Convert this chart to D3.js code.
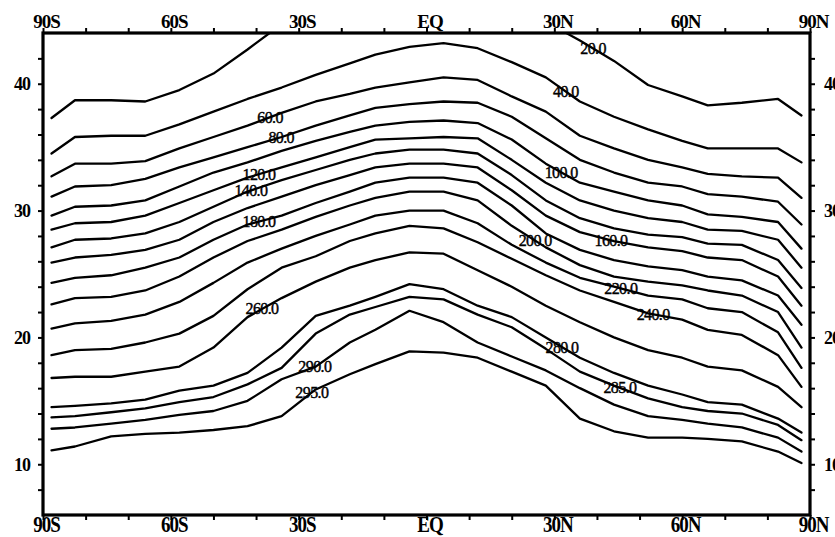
<!DOCTYPE html>
<html><head><meta charset="utf-8">
<script src="https://cdn.jsdelivr.net/npm/d3@7"></script>
<style>
body{margin:0;background:#fff}
svg{display:block}
</style>
</head><body>
<svg id="chart" width="835" height="537"></svg>
<script>
// latitude grid (negative = S, positive = N)
const lats = [-88,-82.5,-74,-66,-58,-50,-42,-34,-26,-18,-12,-4,4,12,20,28,36,44,52,60,66,74,82.5,88];
// contour levels
const levels = [20,40,60,80,100,120,140,160,180,200,220,240,260,280,285,290,295];
// height (km) of each contour at each latitude
const h20  = [37.3,38.7,38.7,38.6,39.5,40.8,42.7,44.7,45.8,46.6,47.0,47.2,47.2,47.0,46.2,44.9,43.4,41.8,39.9,39.0,38.3,38.5,38.8,37.5];
const h40  = [34.5,35.8,35.9,35.9,36.8,37.8,38.8,39.7,40.7,41.6,42.3,42.9,43.2,42.8,41.7,40.5,38.6,37.4,36.4,35.5,34.9,34.9,34.9,33.8];
const h60  = [32.7,33.7,33.7,33.9,34.9,35.8,36.7,37.7,38.6,39.2,39.7,40.1,40.5,40.3,39.0,37.8,35.9,34.9,34.0,33.4,32.9,32.7,32.6,31.0];
const h80  = [31.1,31.9,32.0,32.5,33.4,34.2,35.0,35.8,36.7,37.5,38.1,38.4,38.6,38.5,37.4,35.7,34.0,33.0,32.2,31.9,31.3,31.1,30.7,28.9];
const h100 = [29.6,30.3,30.4,30.8,31.9,33.0,33.8,34.7,35.5,36.2,36.7,37.0,37.1,36.9,35.6,33.7,32.2,31.5,30.8,30.4,29.7,29.5,29.1,27.0];
const h120 = [28.5,29.0,29.1,29.6,30.6,31.6,32.6,33.4,34.2,35.0,35.6,35.7,35.8,35.7,34.0,32.2,30.8,30.0,29.4,29.1,28.5,28.4,27.7,25.5];
const h140 = [27.1,27.7,27.8,28.2,29.1,30.3,31.5,32.4,33.2,34.0,34.5,34.8,34.8,34.5,32.8,30.8,29.4,28.6,28.1,27.9,27.4,27.3,26.1,23.9];
const h160 = [25.9,26.3,26.5,26.9,27.7,29.1,30.2,31.1,32.0,32.8,33.4,33.7,33.7,33.4,31.6,29.6,28.3,27.6,27.1,26.8,26.3,26.1,24.8,22.5];
const h180 = [24.3,24.7,24.9,25.5,26.3,27.7,28.9,29.6,30.6,31.5,32.2,32.6,32.6,32.2,30.4,28.2,26.9,26.1,25.6,25.3,24.8,24.5,23.3,21.0];
const h200 = [22.6,23.1,23.2,23.7,24.8,26.3,27.6,28.5,29.5,30.4,31.0,31.5,31.5,30.8,28.8,27.1,25.7,24.8,24.4,24.1,23.7,23.3,22.0,19.2];
const h220 = [20.7,21.1,21.3,21.8,22.8,24.3,25.9,27.0,28.0,28.9,29.6,30.0,30.0,29.0,27.3,25.9,24.7,24.0,23.3,23.0,22.3,22.0,20.4,17.6];
const h240 = [18.6,19.0,19.1,19.6,20.3,21.7,23.8,25.5,26.4,27.6,28.2,28.8,28.6,27.5,26.2,24.9,23.7,22.8,21.9,21.4,20.6,20.2,18.6,16.1];
const h260 = [16.8,16.9,16.9,17.3,17.7,19.2,21.6,23.1,24.4,25.5,26.1,26.7,26.6,25.3,24.0,22.5,21.2,20.0,19.0,18.4,17.7,17.4,16.1,14.5];
const h280 = [14.5,14.6,14.8,15.1,15.8,16.2,17.2,19.2,21.7,22.5,23.2,24.2,23.8,22.5,21.6,20.0,18.4,17.2,16.2,15.5,14.9,14.7,13.6,12.5];
const h285 = [13.7,13.8,14.1,14.4,14.9,15.3,16.3,17.6,20.3,21.8,22.4,23.2,23.0,21.8,20.8,19.1,17.3,16.2,15.2,14.5,14.2,14.0,13.1,11.9];
const h290 = [12.8,12.9,13.2,13.5,13.9,14.2,15.0,16.7,17.7,19.6,20.6,22.1,21.2,19.6,18.5,17.4,16.0,14.7,13.8,13.5,13.2,12.9,12.1,11.0];
const h295 = [11.1,11.4,12.2,12.4,12.5,12.7,13.0,13.8,15.9,17.1,17.9,18.9,18.8,18.4,17.3,16.2,13.6,12.6,12.1,12.1,12.0,11.8,11.0,10.1];
// latitude where each contour's label sits
const labelLats = [39.1,32.7,-36.7,-34.1,31.6,-39.3,-41.2,43.3,-39.3,25.5,45.6,53.2,-38.6,31.8,45.4,-26.2,-26.9];
// axis ticks
const xTickVals = [-90,-80,-70,-60,-50,-40,-30,-20,-10,0,10,20,30,40,50,60,70,80,90];
const xLabelVals = [-90,-60,-30,0,30,60,90];
const xLabels = ["90S","60S","30S","EQ","30N","60N","90N"];
const yTickVals = [8,10,12,14,16,18,20,22,24,26,28,30,32,34,36,38,40,42];
const yLabelVals = [10,20,30,40];

const heights = [h20,h40,h60,h80,h100,h120,h140,h160,h180,h200,h220,h240,h260,h280,h285,h290,h295];

const L = 43, R = 810, T = 33, B = 515;
const x = d3.scaleLinear().domain([-90,90]).range([L,R]);
const y = d3.scaleLinear().domain([6,44]).range([B,T]);
const svg = d3.select("#chart");

svg.append("defs").append("clipPath").attr("id","clip")
  .append("rect").attr("x",L).attr("y",T).attr("width",R-L).attr("height",B-T);

const line = d3.line().x((d,i)=>x(lats[i])).y(d=>y(d));
const g = svg.append("g").attr("clip-path","url(#clip)");
g.selectAll("path.c").data(heights).join("path")
  .attr("class","c")
  .attr("d",line)
  .attr("fill","none").attr("stroke","#000").attr("stroke-width",2.3)
  .attr("stroke-linejoin","round").attr("stroke-linecap","round");

// contour labels
const lab = svg.append("g");
heights.forEach((h,k)=>{
  const f = d3.scaleLinear().domain(lats).range(h);
  const la = labelLats[k];
  lab.append("text")
    .attr("x",x(la)).attr("y",y(f(la)))
    .attr("dy","0.34em")
    .attr("text-anchor","middle")
    .attr("font-family","'Liberation Serif','Times New Roman',serif")
    .attr("font-size",16)
    .attr("letter-spacing","-0.6")
    .attr("fill","#000")
    .attr("stroke","#000").attr("stroke-width",0.4)
    .text(levels[k].toFixed(1));
});

const fmtX = d => { const i = xLabelVals.indexOf(d); return i>=0 ? xLabels[i] : ""; };
const fmtY = d => yLabelVals.includes(d) ? String(d) : "";

function styleAxis(sel){
  sel.select(".domain").remove();
  sel.selectAll(".tick line").attr("stroke","#000").attr("stroke-width",2);
  sel.selectAll(".tick text")
    .attr("font-family","'Liberation Serif','Times New Roman',serif")
    .attr("font-weight","bold").attr("font-size",19).attr("fill","#000")
    .attr("letter-spacing","-1");
}

const axTop = svg.append("g").attr("transform",`translate(0,${T})`)
  .call(d3.axisTop(x).tickValues(xTickVals).tickFormat(fmtX).tickSize(5).tickPadding(0));
styleAxis(axTop); axTop.selectAll(".tick text").attr("dx",3);

const axBot = svg.append("g").attr("transform",`translate(0,${B})`)
  .call(d3.axisBottom(x).tickValues(xTickVals).tickFormat(fmtX).tickSize(5).tickPadding(2));
styleAxis(axBot);
axBot.selectAll(".tick text")
  .attr("x",3).attr("y",0).attr("dy",null)
  .attr("transform","translate(0,17) scale(1,1.22)");

const axLeft = svg.append("g").attr("transform",`translate(${L},0)`)
  .call(d3.axisLeft(y).tickValues(yTickVals).tickFormat(fmtY).tickSize(5).tickPadding(8));
styleAxis(axLeft); axLeft.selectAll(".tick text").attr("font-size",18);

const axRight = svg.append("g").attr("transform",`translate(${R},0)`)
  .call(d3.axisRight(y).tickValues(yTickVals).tickFormat(fmtY).tickSize(5).tickPadding(9));
styleAxis(axRight); axRight.selectAll(".tick text").attr("font-size",18);

// frame
svg.append("rect").attr("x",L).attr("y",T).attr("width",R-L).attr("height",B-T)
  .attr("fill","none").attr("stroke","#000").attr("stroke-width",3.2);
</script>
</body></html>
